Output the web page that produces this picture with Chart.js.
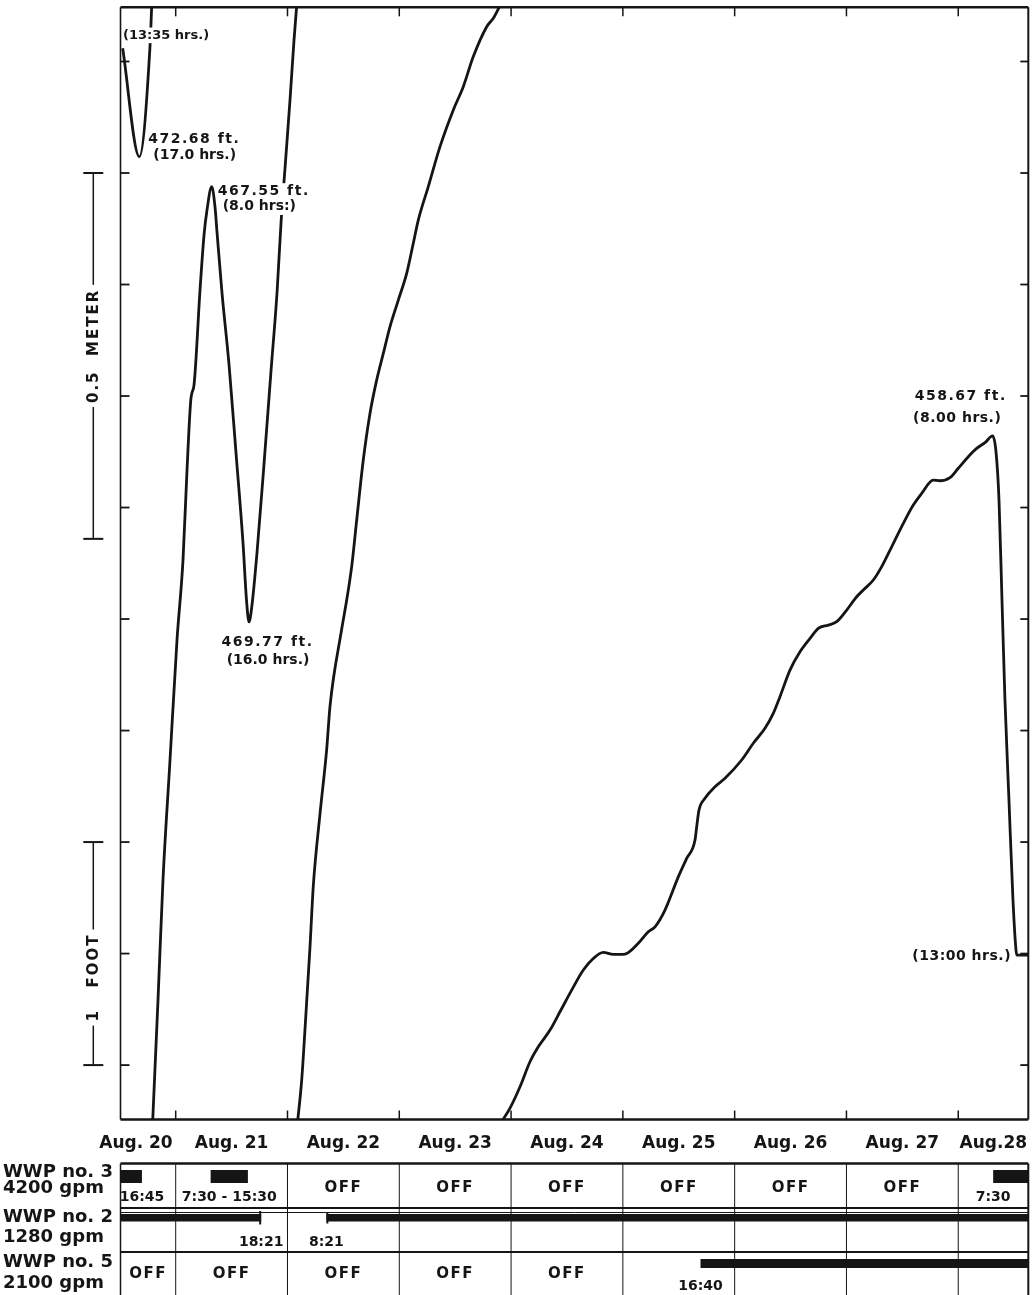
<!DOCTYPE html>
<html>
<head>
<meta charset="utf-8">
<script src="https://cdn.jsdelivr.net/npm/chart.js@4/dist/chart.umd.min.js"></script>
<style>
html,body{margin:0;padding:0;background:#fff;}
canvas{display:block;}
</style>
</head>
<body>
<canvas id="c" width="1032" height="1295"></canvas>
<script>
// ---------- DATA ----------
// time = hours after Aug. 20, 00:00 ; level = feet on the recorder chart (trace wraps at chart edges)
const dayLabels = ['Aug. 20','Aug. 21','Aug. 22','Aug. 23','Aug. 24','Aug. 25','Aug. 26','Aug. 27','Aug.28'];
const dayTicks = [24, 48, 72, 96, 120, 144, 168, 192];
const levelTicks = [0, 0.5, 1, 1.5, 2, 2.5, 3, 3.5, 4, 4.5];
const timeRange = [12.15, 207.04];
const levelRange = [-0.244, 4.743];

const seg1Hours = [12.62, 16.19, 18.48, 18.85];
const seg1Level = [4.559, 4.073, 4.566, 4.75];

const seg2Hours = [19.06, 20.20, 21.27, 22.78, 24.28, 25.57, 26.43, 27.28, 27.93, 29.22, 30.08, 30.72, 31.73,
                   32.44, 32.87, 33.94, 35.44, 36.95, 38.45, 39.20, 39.74, 40.38, 41.45, 42.96, 44.46, 45.75,
                   46.61, 47.47, 48.54, 49.40, 49.98];
const seg2Level = [-0.25, 0.291, 0.830, 1.368, 1.906, 2.265, 2.668, 2.991, 3.049, 3.475, 3.722, 3.834, 3.939,
                   3.848, 3.735, 3.462, 3.143, 2.744, 2.341, 2.085, 1.987, 2.063, 2.296, 2.695, 3.112, 3.462,
                   3.776, 4.022, 4.327, 4.596, 4.75];

const seg3Hours = [50.19, 51.05, 51.76, 52.83, 53.54, 54.98, 56.42, 57.13, 59.64, 60.71, 61.78, 62.86, 64.27,
                   65.71, 67.15, 68.57, 70.01, 71.79, 73.59, 75.01, 76.08, 78.23, 80.74, 83.60, 85.74, 87.89,
                   90.77, 92.18, 93.62];
const seg3Level = [-0.25, -0.067, 0.161, 0.529, 0.803, 1.126, 1.417, 1.610, 1.955, 2.085, 2.235, 2.444, 2.713,
                   2.922, 3.072, 3.191, 3.311, 3.430, 3.550, 3.685, 3.789, 3.939, 4.118, 4.283, 4.387, 4.522,
                   4.656, 4.694, 4.75];

const seg4Hours = [93.99, 95.77, 97.92, 100.06, 101.84, 104.36, 106.50, 109.01, 111.51, 113.65, 115.80, 117.95,
                   120.46, 123.31, 125.46, 126.90, 129.04, 131.90, 133.70, 135.49, 135.85, 136.34, 137.63, 139.78,
                   141.93, 145.51, 148.00, 150.51, 152.29, 153.73, 155.88, 158.03, 160.18, 161.96, 164.10, 165.91,
                   168.05, 170.20, 171.62, 173.77, 175.57, 177.71, 180.21, 182.35, 184.16, 186.64, 188.08, 190.23,
                   192.01, 194.16, 195.96, 197.74, 199.40, 200.11, 200.75, 201.39, 202.03, 202.89, 203.75, 204.40,
                   204.62, 207.04];
const seg4Level = [-0.254, -0.193, -0.097, 0.015, 0.082, 0.157, 0.239, 0.336, 0.426, 0.478, 0.505, 0.496,
                   0.498, 0.546, 0.598, 0.620, 0.695, 0.844, 0.927, 1.009, 1.069, 1.143, 1.196, 1.248,
                   1.286, 1.368, 1.443, 1.510, 1.577, 1.652, 1.771, 1.853, 1.913, 1.958, 1.973, 1.988,
                   2.040, 2.100, 2.130, 2.175, 2.235, 2.324, 2.429, 2.511, 2.564, 2.623, 2.620, 2.634,
                   2.676, 2.728, 2.765, 2.791, 2.821, 2.749, 2.534, 2.085, 1.637, 1.188, 0.740, 0.516,
                   0.493, 0.493];

// annotations: text lines and the data point they belong to [segment, point index]
const noteText = [['(13:35 hrs.)'], ['472.68 ft.', '(17.0 hrs.)'], ['467.55 ft.', '(8.0 hrs:)'],
                  ['469.77 ft.', '(16.0 hrs.)'], ['458.67 ft.', '(8.00 hrs.)'], ['(13:00 hrs.)']];
const noteAnchor = [[0, 0], [0, 1], [1, 12], [1, 20], [3, 52], [3, 60]];

// scale bars (feet on chart)
const footBar = [1, 0];
const meterBar = [4.0, 4.0 - 0.5 / 0.3048];
const footBarText = '1   FOOT';
const meterBarText = '0.5  METER';

// pumps: running periods in hours (null = beyond the record)
const pumpNames = ['WWP no. 3', 'WWP no. 2', 'WWP no. 5'];
const pumpRates = ['4200 gpm', '1280 gpm', '2100 gpm'];
const wwp3Runs = [[null, 16.75], [31.5, 39.5], [199.5, null]];
const wwp3RunText = ['16:45', '7:30 - 15:30', '7:30'];
const wwp2Runs = [[null, 42.35], [56.35, null]];
const wwp2RunText = ['18:21', '8:21'];
const wwp5Runs = [[136.67, null]];
const wwp5RunText = ['16:40'];

// ---------- DRAWING ----------
const INK = '#151515';
const FONT = '"DejaVu Sans", "Liberation Sans", sans-serif';
const pts = (hs, vs) => hs.map((h, i) => ({x: h, y: vs[i]}));
const segments = [pts(seg1Hours, seg1Level), pts(seg2Hours, seg2Level), pts(seg3Hours, seg3Level), pts(seg4Hours, seg4Level)];

function drawText(ctx, s, x, y, o) {
  o = o || {};
  const size = o.size || 14;
  ctx.save();
  ctx.font = 'bold ' + size + 'px ' + FONT;
  ctx.letterSpacing = (o.spacing || 0) + 'px';
  ctx.textAlign = o.align || 'left';
  ctx.textBaseline = o.baseline || 'middle';
  if (o.bg) {
    const w = ctx.measureText(s).width;
    const x0 = ctx.textAlign === 'left' ? x : ctx.textAlign === 'right' ? x - w : x - w / 2;
    const p = o.pad || 1;
    ctx.fillStyle = '#fff';
    ctx.fillRect(x0 - p, y - size * 0.6, w + 2 * p, size * 1.2);
  }
  ctx.fillStyle = INK;
  ctx.fillText(s, x, y);
  ctx.restore();
}
function line(ctx, x1, y1, x2, y2, w) {
  ctx.beginPath(); ctx.lineWidth = w; ctx.strokeStyle = INK;
  ctx.moveTo(x1, y1); ctx.lineTo(x2, y2); ctx.stroke();
}

const noteLayout = [
  [{dx: 0.3, dy: -13, align: 'left', size: 13}],
  [{dx: 9, dy: -17, align: 'left', size: 14, spacing: 1.5}, {dx: 14, dy: -1.5, align: 'left', size: 14}],
  [{dx: 6, dy: 5, align: 'left', size: 14, spacing: 1.5}, {dx: 11, dy: 20, align: 'left', size: 14}],
  [{dx: 18.5, dy: 20, align: 'center', size: 14, spacing: 1.5}, {dx: 19, dy: 38, align: 'center', size: 14}],
  [{dx: -32, dy: -39.5, align: 'center', size: 14, spacing: 1.5}, {dx: -35.5, dy: -18, align: 'center', size: 14, spacing: 0.5}],
  [{dx: -6, dy: 1, align: 'right', size: 14, spacing: 0.5}]
];

const hydroPlugin = {
  id: 'hydro',
  afterDraw(chart) {
    const {ctx, chartArea: a} = chart;
    const xs = chart.scales.x, ys = chart.scales.y;
    const X = h => xs.getPixelForValue(h);
    const Y = v => ys.getPixelForValue(v);
    ctx.save();
    ctx.lineCap = 'butt';

    // annotations (white backing hides the trace as in the original)
    noteText.forEach((lines, i) => {
      const [s, k] = noteAnchor[i];
      const p = segments[s][k];
      const px = X(p.x), py = Y(p.y);
      lines.forEach((t, j) => {
        const L = noteLayout[i][j];
        drawText(ctx, t, px + L.dx, py + L.dy, {align: L.align, size: L.size, spacing: L.spacing || 0, bg: true});
      });
    });

    // frame
    line(ctx, a.left, a.top, a.right, a.top, 2.5);
    line(ctx, a.left, a.bottom, a.right, a.bottom, 2.5);
    line(ctx, a.left, a.top, a.left, a.bottom, 1.6);
    line(ctx, a.right, a.top, a.right, a.bottom, 2);
    // inward ticks
    dayTicks.forEach(h => {
      const px = X(h);
      line(ctx, px, a.top, px, a.top + 9, 1.5);
      line(ctx, px, a.bottom, px, a.bottom - 9, 1.5);
    });
    levelTicks.forEach(v => {
      const py = Y(v);
      line(ctx, a.left, py, a.left + 9, py, 1.8);
      line(ctx, a.right, py, a.right - 8, py, 1.8);
    });

    // date labels, centred in each day cell
    const bounds = [xs.min, ...dayTicks, xs.max];
    ctx.font = 'bold 17px ' + FONT;
    dayLabels.forEach((t, i) => {
      const x0 = X(bounds[i]), x1 = X(bounds[i + 1]);
      const w = ctx.measureText(t).width;
      if (w > x1 - x0 && i === 0) {
        drawText(ctx, t, x1 - 3, a.bottom + 28, {size: 17, align: 'right', baseline: 'alphabetic'});
      } else {
        drawText(ctx, t, (x0 + x1) / 2, a.bottom + 28, {size: 17, align: 'center', baseline: 'alphabetic'});
      }
    });

    // scale bars
    const bx = 93.3;
    const bar = (r, txt, shift) => {
      const y0 = Y(r[0]), y1 = Y(r[1]);
      line(ctx, bx, y0, bx, y1, 1.5);
      line(ctx, bx - 10, y0, bx + 10, y0, 2);
      line(ctx, bx - 10, y1, bx + 10, y1, 2);
      ctx.save();
      ctx.translate(bx + 1, (y0 + y1) / 2 + shift);
      ctx.rotate(-Math.PI / 2);
      drawText(ctx, txt, 0, 0, {size: 15, align: 'center', spacing: 2, bg: true, pad: 4});
      ctx.restore();
    };
    bar(meterBar, meterBarText, -10);
    bar(footBar, footBarText, 24);

    // pump schedule table
    const B = a.bottom, H = chart.height;
    const rowTop = [B + 44, B + 88.5, B + 132.5];
    line(ctx, a.left, rowTop[0], a.right, rowTop[0], 2.5);
    line(ctx, a.left, rowTop[1], a.right, rowTop[1], 2);
    line(ctx, a.left, rowTop[1] + 4.5, a.right, rowTop[1] + 4.5, 1);
    line(ctx, a.left, rowTop[2], a.right, rowTop[2], 2);
    line(ctx, a.left, rowTop[0], a.left, H, 1.5);
    line(ctx, a.right, rowTop[0], a.right, H, 2);
    dayTicks.forEach(h => line(ctx, X(h), rowTop[0], X(h), H, 1));

    const runs = [wwp3Runs, wwp2Runs, wwp5Runs];
    const runText = [wwp3RunText, wwp2RunText, wwp5RunText];
    const barY = [[B + 50.5, 13], [B + 94.5, 7.5], [B + 139.5, 9]];
    const textY = [B + 77.5, B + 123, B + 167];
    const offY = [B + 68.5, null, B + 154.5];
    runs.forEach((rs, r) => {
      rs.forEach((run, k) => {
        const s = run[0] == null ? xs.min : run[0];
        const e = run[1] == null ? xs.max : run[1];
        const x0 = X(s), x1 = X(e);
        ctx.fillStyle = INK;
        ctx.fillRect(x0, barY[r][0], x1 - x0, barY[r][1]);
        if (r === 1) {
          if (run[0] != null) line(ctx, x0 + 1, barY[r][0] - 2, x0 + 1, barY[r][0] + barY[r][1] + 2, 2);
          if (run[1] != null) line(ctx, x1 - 1, barY[r][0] - 3, x1 - 1, barY[r][0] + barY[r][1] + 3, 2);
        }
        let at;
        if (run[0] != null && run[1] != null) at = (x0 + x1) / 2;
        else if (run[0] != null) at = x0;
        else at = x1;
        drawText(ctx, runText[r][k], at, textY[r], {size: 14, align: 'center'});
      });
      if (offY[r] != null) {
        for (let i = 0; i < bounds.length - 1; i++) {
          const busy = rs.some(run => {
            const s = run[0] == null ? -1e9 : run[0];
            const e = run[1] == null ? 1e9 : run[1];
            return s < bounds[i + 1] && e > bounds[i];
          });
          if (!busy) {
            drawText(ctx, 'OFF', (X(bounds[i]) + X(bounds[i + 1])) / 2, offY[r], {size: 15, align: 'center', spacing: 1.5});
          }
        }
      }
    });
    // row headings
    const headY = [[B + 57.5, B + 73.5], [B + 102.5, B + 122.5], [B + 147.5, B + 168.5]];
    pumpNames.forEach((n, r) => {
      drawText(ctx, n, 3, headY[r][0], {size: 18, baseline: 'alphabetic'});
      drawText(ctx, pumpRates[r], 3, headY[r][1], {size: 18, baseline: 'alphabetic'});
    });
    ctx.restore();
  }
};

new Chart(document.getElementById('c'), {
  type: 'line',
  data: {
    datasets: segments.map(d => ({
      data: d,
      borderColor: INK,
      borderWidth: 2.8,
      pointRadius: 0,
      fill: false,
      cubicInterpolationMode: 'monotone'
    }))
  },
  options: {
    responsive: false,
    animation: false,
    devicePixelRatio: 1,
    layout: {padding: {left: 120.5, right: 3.7, top: 7.3, bottom: 175.5}},
    plugins: {legend: {display: false}, tooltip: {enabled: false}},
    scales: {
      x: {type: 'linear', min: timeRange[0], max: timeRange[1], display: false},
      y: {type: 'linear', min: levelRange[0], max: levelRange[1], display: false}
    }
  },
  plugins: [hydroPlugin]
});
</script>
</body>
</html>
